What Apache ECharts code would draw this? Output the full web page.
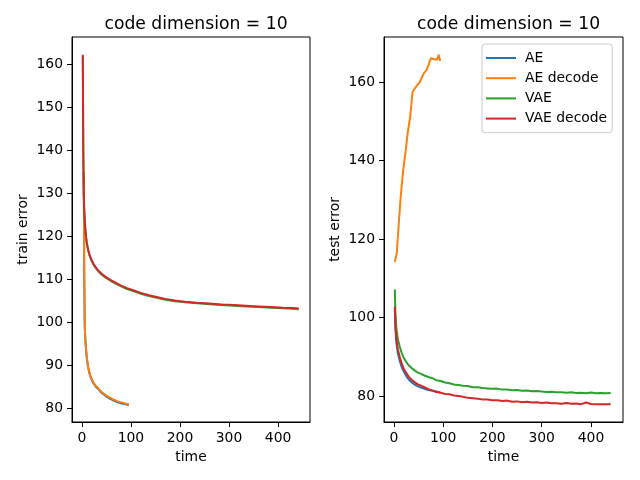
<!DOCTYPE html>
<html>
<head>
<meta charset="utf-8">
<script src="https://cdn.jsdelivr.net/npm/echarts@6/dist/echarts.min.js"></script>
<style>html,body{margin:0;padding:0;background:#fff}#c{width:640px;height:480px}</style>
</head>
<body>
<div id="c"></div>
<script>
// ---------- data ----------
var seriesNames = ['AE', 'AE decode', 'VAE', 'VAE decode'];
var xTicks = [0, 100, 200, 300, 400];
var yTicksTrain = [80, 90, 100, 110, 120, 130, 140, 150, 160];
var yTicksTest = [80, 100, 120, 140, 160];

// train error (left)
var trainAETime = [4, 5, 6, 7, 8, 10, 12, 14, 17, 20, 24, 28, 33, 38, 44, 50, 57, 64, 72, 80, 88, 96];
var trainAE = [134.7, 109.8, 98.8, 96.3, 94.4, 91.8, 90.0, 88.8, 87.5, 86.6, 85.7, 85.0, 84.5, 83.8, 83.2, 82.7, 82.2, 81.8, 81.4, 81.1, 80.85, 80.7];
var trainAEdec = [134.9, 110.0, 99.0, 96.5, 94.6, 92.0, 90.2, 89.0, 87.7, 86.8, 85.9, 85.2, 84.7, 84.0, 83.4, 82.9, 82.4, 82.0, 81.6, 81.3, 81.05, 80.8];
var trainVAETime = [2, 3, 4, 5, 6, 8, 10, 13, 16, 20, 25, 30, 36, 43, 50, 60, 70, 80, 92, 105, 120, 135, 150, 170, 190, 210, 235, 260, 285, 310, 335, 360, 385, 410, 430, 442];
var trainVAE = [162.0, 139.8, 129.8, 125.8, 123.3, 120.3, 118.4, 116.6, 115.4, 114.2, 113.1, 112.3, 111.5, 110.8, 110.2, 109.5, 108.9, 108.3, 107.7, 107.2, 106.6, 106.1, 105.7, 105.2, 104.85, 104.6, 104.35, 104.15, 103.95, 103.8, 103.65, 103.5, 103.35, 103.2, 103.1, 103.0];
var trainVAEdec = [162.2, 140.0, 130.0, 126.0, 123.5, 120.5, 118.6, 116.8, 115.6, 114.4, 113.3, 112.5, 111.7, 111.0, 110.4, 109.7, 109.1, 108.5, 107.9, 107.4, 106.8, 106.3, 105.9, 105.4, 105.0, 104.75, 104.5, 104.3, 104.1, 103.95, 103.8, 103.65, 103.5, 103.35, 103.25, 103.15];

// test error (right)
var testAETime = [2, 3, 5, 8, 12, 16, 20, 25, 30, 36, 42, 48, 55, 62, 70, 78, 86, 94];
var testAE = [102.3, 97.5, 93.8, 91.0, 89.0, 87.4, 86.3, 85.2, 84.3, 83.6, 83.0, 82.6, 82.2, 81.9, 81.6, 81.4, 81.2, 80.95];
var testAEdecTime = [2, 6, 10, 14, 19, 24, 28, 33, 38, 42, 47, 52, 56, 61, 66, 70, 75, 80, 84, 88, 91, 94];
var testAEdec = [114.2, 116.5, 124.0, 131.0, 137.6, 142.5, 147.0, 151.0, 157.5, 158.3, 159.2, 159.9, 160.4, 162.3, 163.0, 164.2, 166.1, 165.9, 165.6, 165.7, 167.0, 165.4];
var testVAETime = [2, 3, 5, 8, 12, 16, 20, 25, 30, 36, 42, 48, 55, 62, 70, 78, 86, 95, 104, 113, 122, 131, 140, 150, 160, 170, 180, 190, 200, 210, 220, 230, 240, 250, 260, 270, 280, 290, 300, 310, 320, 330, 340, 350, 360, 370, 380, 390, 400, 410, 420, 430, 440];
var testVAE = [107.2, 101.5, 97.5, 94.6, 92.6, 91.0, 89.8, 88.8, 87.9, 87.2, 86.6, 86.1, 85.7, 85.3, 84.9, 84.6, 84.1, 83.9, 83.5, 83.3, 83.0, 82.9, 82.7, 82.6, 82.3, 82.3, 82.1, 82.0, 81.9, 81.95, 81.7, 81.75, 81.55, 81.6, 81.4, 81.5, 81.3, 81.35, 81.2, 81.1, 81.15, 81.0, 81.05, 80.9, 81.0, 80.85, 80.9, 80.8, 80.95, 80.8, 80.85, 80.75, 80.85];
var testVAEdec = [102.8, 98.5, 94.8, 92.0, 90.0, 88.3, 87.0, 86.0, 85.0, 84.2, 83.6, 83.1, 82.7, 82.3, 81.8, 81.5, 81.1, 80.9, 80.6, 80.5, 80.2, 80.1, 79.9, 79.6, 79.5, 79.4, 79.2, 79.2, 79.0, 79.0, 78.8, 78.9, 78.6, 78.7, 78.5, 78.6, 78.4, 78.45, 78.3, 78.4, 78.2, 78.25, 78.1, 78.3, 78.1, 78.15, 78.0, 78.4, 78.05, 78.0, 78.0, 77.95, 77.95];

var colors = ['#1f77b4', '#ff7f0e', '#2ca02c', '#d62728'];

function pairs(t, v) { var out = []; for (var i = 0; i < t.length; i++) out.push([t[i], v[i]]); return out; }

var FONT = 'DejaVu Sans';
function xAxis(idx) {
  return {
    type: 'value', gridIndex: idx, min: -20, max: 465,
    name: 'time', nameLocation: 'middle', nameGap: 28,
    nameTextStyle: { fontFamily: FONT, fontSize: 13.9, color: '#000' },
    axisLine: { show: true, onZero: false, lineStyle: { color: '#000', width: 1 } },
    axisTick: { show: true, inside: false, length: 5, customValues: xTicks, lineStyle: { color: '#000', width: 1 } },
    axisLabel: { show: true, margin: 9, customValues: xTicks, fontFamily: FONT, fontSize: 13.9, color: '#000' },
    splitLine: { show: false }
  };
}
function yAxis(idx, min, max, ticks, name) {
  return {
    type: 'value', gridIndex: idx, min: min, max: max,
    name: name, nameLocation: 'middle', nameGap: 42,
    nameTextStyle: { fontFamily: FONT, fontSize: 13.9, color: '#000' },
    axisLine: { show: true, onZero: false, lineStyle: { color: '#000', width: 1 } },
    axisTick: { show: true, inside: false, length: 5, customValues: ticks, lineStyle: { color: '#000', width: 1 } },
    axisLabel: { show: true, margin: 9, customValues: ticks, fontFamily: FONT, fontSize: 13.9, color: '#000' },
    splitLine: { show: false }
  };
}
function line(name, color, data, idx) {
  return {
    type: 'line', name: name, data: data, xAxisIndex: idx, yAxisIndex: idx,
    showSymbol: false, symbol: 'none', smooth: false,
    lineStyle: { color: color, width: 2 }, itemStyle: { color: color }
  };
}

var chart = echarts.init(document.getElementById('c'), null, { renderer: 'canvas' });
chart.setOption({
  animation: false,
  backgroundColor: '#fff',
  title: [
    { text: 'code dimension = 10', left: 191, top: 11, textAlign: 'center',
      textStyle: { fontFamily: FONT, fontSize: 17.2, fontWeight: 'normal', color: '#000' } },
    { text: 'code dimension = 10', left: 503.5, top: 11, textAlign: 'center',
      textStyle: { fontFamily: FONT, fontSize: 17.2, fontWeight: 'normal', color: '#000' } }
  ],
  legend: {
    data: seriesNames, orient: 'vertical', left: 482, top: 44,
    icon: 'rect', itemWidth: 30, itemHeight: 2, itemGap: 4.2,
    padding: [6, 5, 6, 4],
    borderColor: '#cccccc', borderWidth: 1, borderRadius: 3,
    backgroundColor: 'rgba(255,255,255,0.8)',
    textStyle: { fontFamily: FONT, fontSize: 13.9, color: '#000', lineHeight: 16, padding: [0, 0, 0, 4] }
  },
  grid: [
    { left: 72, top: 37, width: 238, height: 385, show: true, borderColor: '#000', borderWidth: 1, backgroundColor: 'transparent' },
    { left: 384, top: 37, width: 239, height: 385, show: true, borderColor: '#000', borderWidth: 1, backgroundColor: 'transparent' }
  ],
  xAxis: [xAxis(0), xAxis(1)],
  yAxis: [yAxis(0, 76.74, 166.35, yTicksTrain, 'train error'), yAxis(1, 73.45, 171.5, yTicksTest, 'test error')],
  series: [
    line('AE', colors[0], pairs(trainAETime, trainAE), 0),
    line('AE decode', colors[1], pairs(trainAETime, trainAEdec), 0),
    line('VAE', colors[2], pairs(trainVAETime, trainVAE), 0),
    line('VAE decode', colors[3], pairs(trainVAETime, trainVAEdec), 0),
    line('AE', colors[0], pairs(testAETime, testAE), 1),
    line('AE decode', colors[1], pairs(testAEdecTime, testAEdec), 1),
    line('VAE', colors[2], pairs(testVAETime, testVAE), 1),
    line('VAE decode', colors[3], pairs(testVAETime, testVAEdec), 1)
  ]
});
</script>
</body>
</html>
